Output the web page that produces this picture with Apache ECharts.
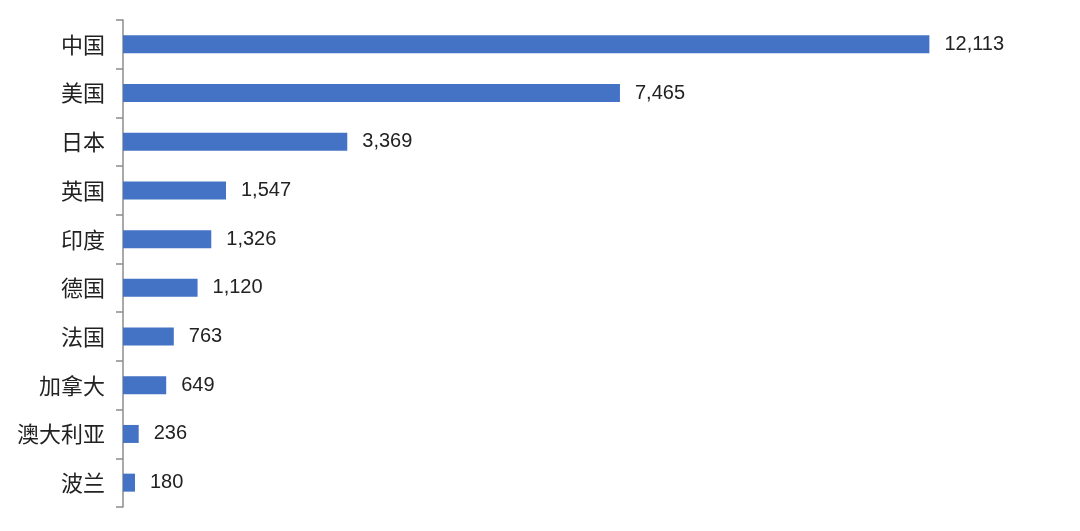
<!DOCTYPE html>
<html>
<head>
<meta charset="utf-8">
<script src="https://cdn.jsdelivr.net/npm/echarts@6/dist/echarts.min.js"></script>
<style>html,body{margin:0;padding:0;background:#fff;}#c{width:1080px;height:531px;}</style>
</head>
<body>
<div id="c"></div>
<script>
const categories = ['中国','美国','日本','英国','印度','德国','法国','加拿大','澳大利亚','波兰'];
const values = [12113, 7465, 3369, 1547, 1326, 1120, 763, 649, 236, 180];

const chart = echarts.init(document.getElementById('c'));
chart.setOption({
  animation: false,
  backgroundColor: '#fff',
  grid: { left: 123, right: 25, top: 20, bottom: 24 },
  xAxis: { type: 'value', min: 0, max: 14000, show: false },
  yAxis: {
    type: 'category',
    data: categories,
    inverse: true,
    axisLine: { show: true, lineStyle: { color: '#8c8c8c', width: 1.5 } },
    axisTick: { show: true, length: 7, lineStyle: { color: '#8c8c8c', width: 1.5 } },
    axisLabel: { margin: 18, fontSize: 22, color: '#222', fontFamily: 'Noto Sans CJK SC' },
    splitLine: { show: false }
  },
  series: [{
    type: 'bar',
    data: values,
    barWidth: 18,
    itemStyle: { color: '#4472C4' },
    label: {
      show: true, position: 'right', distance: 15,
      fontSize: 20, color: '#222', fontFamily: 'Liberation Sans',
      formatter: p => p.value.toLocaleString('en-US')
    }
  }]
});
</script>
</body>
</html>
